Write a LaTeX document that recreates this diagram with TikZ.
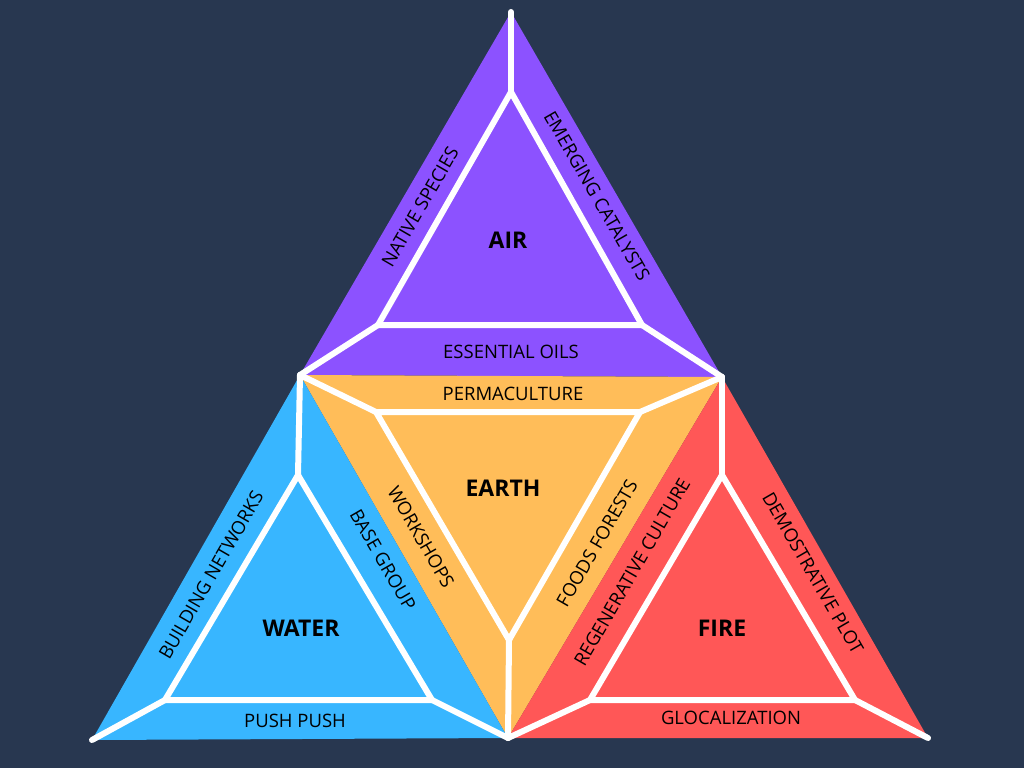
\documentclass[tikz,border=0pt]{standalone}
\usepackage{fontspec}
\setmainfont{Open Sans}
\begin{document}
\begin{tikzpicture}[x=1pt,y=-1pt,
  wl/.style={draw=white,line width=6pt,line cap=round,line join=round},
  lab/.style={font=\fontsize{18.5}{18.5}\selectfont,text=black,inner sep=1pt},
  ttl/.style={font=\fontsize{23}{23}\selectfont\bfseries,text=black}]
\fill[fill={rgb,255:red,40;green,55;blue,80}] (0,0) rectangle (1024,768);
\useasboundingbox (0,0) rectangle (1024,768);
\coordinate (A) at (511,12); \coordinate (L) at (300,375); \coordinate (R) at (722,377);
\coordinate (BL) at (92,740); \coordinate (BM) at (508,738); \coordinate (BR) at (928,738);
\fill[fill={rgb,255:red,140;green,82;blue,255}] (A)--(L)--(R)--cycle;
\fill[fill={rgb,255:red,255;green,189;blue,89}] (L)--(R)--(BM)--cycle;
\fill[fill={rgb,255:red,56;green,182;blue,255}] (L)--(BL)--(BM)--cycle;
\fill[fill={rgb,255:red,255;green,87;blue,87}] (R)--(BM)--(BR)--cycle;
% air
\coordinate (a1) at (511,92); \coordinate (a2) at (378,325); \coordinate (a3) at (642,325);
\draw[wl] (a1)--(a2)--(a3)--cycle; \draw[wl] (A)--(a1); \draw[wl] (L)--(a2); \draw[wl] (R)--(a3);
% earth
\coordinate (e1) at (376,412); \coordinate (e2) at (640,412); \coordinate (e3) at (509,640);
\draw[wl] (e1)--(e2)--(e3)--cycle; \draw[wl] (L)--(e1); \draw[wl] (R)--(e2); \draw[wl] (BM)--(e3);
% water
\coordinate (w1) at (298,475); \coordinate (w2) at (165,700); \coordinate (w3) at (432,700);
\draw[wl] (w1)--(w2)--(w3)--cycle; \draw[wl] (L)--(w1); \draw[wl] (BL)--(w2); \draw[wl] (BM)--(w3);
% fire
\coordinate (f1) at (722,475); \coordinate (f2) at (590,700); \coordinate (f3) at (855,700);
\draw[wl] (f1)--(f2)--(f3)--cycle; \draw[wl] (R)--(f1); \draw[wl] (BM)--(f2); \draw[wl] (BR)--(f3);
% labels
\node[lab,rotate=60] (t1) at (420,207) {NATIVE SPECIES};
\node[lab,rotate=-60] (t2) at (597,196) {EMERGING CATALYSTS};
\node[lab] (t3) at (511,352) {ESSENTIAL OILS};
\node[ttl] (t4) at (508,240) {AIR};
\node[lab] (t5) at (513,394) {PERMACULTURE};
\node[lab,rotate=-60] (t6) at (421,537) {WORKSHOPS};
\node[lab,rotate=60] (t7) at (597,543) {FOODS FORESTS};
\node[ttl] (t8) at (503,488) {EARTH};
\node[lab,rotate=60] (t9) at (211,575) {BUILDING NETWORKS};
\node[lab,rotate=-60] (t10) at (383,560) {BASE GROUP};
\node[lab] (t11) at (295,721) {PUSH PUSH};
\node[ttl] (t12) at (301,628) {WATER};
\node[lab,rotate=60] (t13) at (632,572) {REGENERATIVE CULTURE};
\node[lab,rotate=-60] (t14) at (813,573) {DEMOSTRATIVE PLOT};
\node[lab] (t15) at (731,718) {GLOCALIZATION};
\node[ttl] (t16) at (722,628) {FIRE};
\end{tikzpicture}
\end{document}
